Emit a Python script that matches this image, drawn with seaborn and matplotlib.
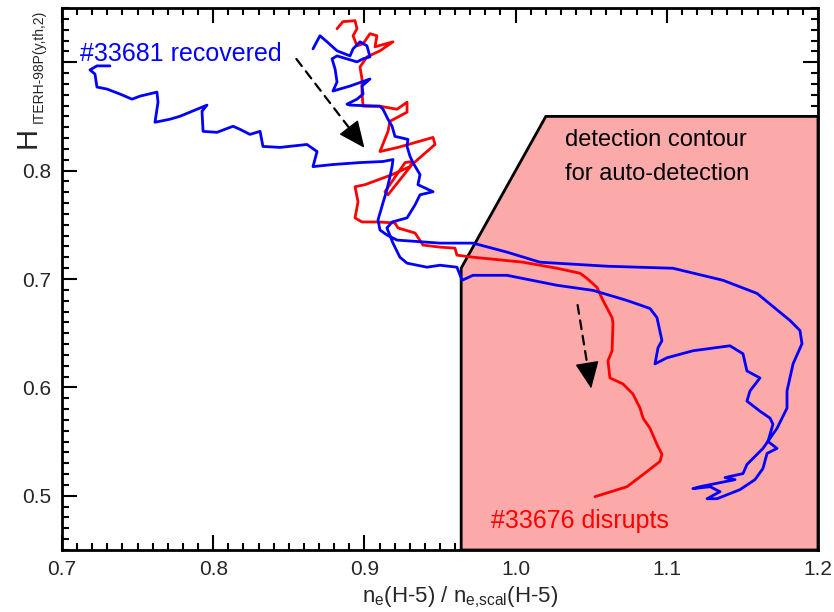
import numpy as np
import pandas as pd
import matplotlib
matplotlib.use("Agg")
import matplotlib.pyplot as plt
from matplotlib.ticker import MultipleLocator
import seaborn as sns

# ---------------- data ----------------
blue_x = [0.7317, 0.7231, 0.7185, 0.7218, 0.7231, 0.7298, 0.7384, 0.7463, 0.7516, 0.7628,
          0.7635, 0.7615, 0.7714, 0.7780, 0.7893, 0.7959, 0.7926, 0.7933, 0.8025, 0.8131,
          0.8177, 0.8243, 0.8310, 0.8329, 0.8442, 0.8620, 0.8687, 0.8660, 0.8792, 0.8971,
          0.9123, 0.9189, 0.9183, 0.9169, 0.9149, 0.9123, 0.9090, 0.9103, 0.9149, 0.9216,
          0.9500, 0.9718, 0.9943, 1.0161, 1.0604, 1.1041, 1.1372, 1.1597, 1.1815, 1.1881,
          1.1894, 1.1835, 1.1795, 1.1795, 1.1729, 1.1636, 1.1530, 1.1504, 1.1385, 1.1451,
          1.1220, 1.1173, 1.1286, 1.1352, 1.1266, 1.1332, 1.1484, 1.1583, 1.1636, 1.1663,
          1.1729, 1.1669, 1.1702, 1.1683, 1.1616, 1.1530, 1.1550, 1.1616, 1.1530, 1.1504,
          1.1438, 1.1418, 1.1173, 1.1001, 1.0922, 1.0942, 1.0968, 1.0935, 1.0889, 1.0737,
          1.0512, 1.0274, 0.9943, 0.9718, 0.9646, 0.9612, 0.9500, 0.9414, 0.9282, 0.9235,
          0.9189, 0.9149, 0.9183, 0.9282, 0.9335, 0.9368, 0.9454, 0.9354, 0.9368, 0.9321,
          0.9302, 0.9282, 0.9288, 0.9202, 0.9183, 0.9156, 0.9123, 0.9103, 0.8905, 0.8885,
          0.8951, 0.8991, 0.8984, 0.9037, 0.8905, 0.8792, 0.8819, 0.8806, 0.8786, 0.8819,
          0.8951, 0.8991, 0.9037, 0.9017, 0.8971, 0.8925, 0.8905, 0.8819, 0.8753, 0.8706,
          0.8660]
blue_y = [0.8966, 0.8966, 0.8929, 0.8891, 0.8771, 0.8752, 0.8706, 0.8659, 0.8687, 0.8724,
          0.8631, 0.8446, 0.8474, 0.8501, 0.8566, 0.8604, 0.8548, 0.8362, 0.8353, 0.8409,
          0.8381, 0.8334, 0.8362, 0.8223, 0.8214, 0.8241, 0.8176, 0.8037, 0.8056, 0.8074,
          0.8084, 0.8102, 0.8037, 0.7944, 0.7824, 0.7703, 0.7545, 0.7452, 0.7406, 0.7359,
          0.7331, 0.7331, 0.7248, 0.7155, 0.7118, 0.7099, 0.6988, 0.6867, 0.6617, 0.6524,
          0.6403, 0.6217, 0.5967, 0.5809, 0.5623, 0.5437, 0.5289, 0.5205, 0.5168, 0.5149,
          0.5084, 0.5066, 0.5084, 0.5038, 0.4973, 0.4973, 0.5057, 0.5149, 0.5252, 0.5391,
          0.5437, 0.5502, 0.5660, 0.5716, 0.5781, 0.5874, 0.5967, 0.6087, 0.6152, 0.6310,
          0.6366, 0.6384, 0.6338, 0.6273, 0.6217, 0.6366, 0.6431, 0.6644, 0.6728, 0.6802,
          0.6895, 0.6942, 0.7034, 0.7034, 0.6988, 0.7109, 0.7127, 0.7109, 0.7146, 0.7201,
          0.7331, 0.7471, 0.7526, 0.7564, 0.7684, 0.7777, 0.7805, 0.7870, 0.7963, 0.8074,
          0.8130, 0.8223, 0.8288, 0.8316, 0.8409, 0.8474, 0.8566, 0.8594, 0.8604, 0.8613,
          0.8659, 0.8706, 0.8780, 0.8845, 0.8780, 0.8734, 0.8817, 0.8938, 0.9031, 0.9058,
          0.9003, 0.9031, 0.9049, 0.9151, 0.9188, 0.9123, 0.9058, 0.9105, 0.9188, 0.9244,
          0.9123]

red_x = [0.8819, 0.8858, 0.8938, 0.8951, 0.8925, 0.8951, 0.8991, 0.9037, 0.9083, 0.9070,
         0.9189, 0.9103, 0.9017, 0.8971, 0.8984, 0.8984, 0.8991, 0.9103, 0.9216, 0.9282,
         0.9282, 0.9169, 0.9156, 0.9103, 0.9222, 0.9454, 0.9467, 0.9315, 0.9156, 0.9136,
         0.9269, 0.9315, 0.9302, 0.9183, 0.9004, 0.8938, 0.8958, 0.8938, 0.8984, 0.9090,
         0.9202, 0.9222, 0.9335, 0.9388, 0.9500, 0.9599, 0.9612, 0.9718, 1.0049, 1.0274,
         1.0426, 1.0472, 1.0538, 1.0578, 1.0638, 1.0644, 1.0638, 1.0611, 1.0624, 1.0710,
         1.0776, 1.0823, 1.0843, 1.0889, 1.0935, 1.0968, 1.0955, 1.0843, 1.0737, 1.0525]
red_y = [0.9309, 0.9374, 0.9383, 0.9309, 0.9244, 0.9151, 0.9170, 0.9263, 0.9244, 0.9142,
         0.9188, 0.9105, 0.9049, 0.8956, 0.8845, 0.8724, 0.8594, 0.8594, 0.8566, 0.8631,
         0.8539, 0.8455, 0.8362, 0.8176, 0.8214, 0.8306, 0.8241, 0.8056, 0.7777, 0.7805,
         0.8074, 0.8084, 0.8037, 0.7963, 0.7870, 0.7851, 0.7712, 0.7564, 0.7526, 0.7526,
         0.7517, 0.7471, 0.7424, 0.7313, 0.7294, 0.7285, 0.7220, 0.7201, 0.7155, 0.7099,
         0.7053, 0.7006, 0.6923, 0.6802, 0.6644, 0.6589, 0.6338, 0.6245, 0.6087, 0.6032,
         0.5939, 0.5809, 0.5716, 0.5623, 0.5474, 0.5382, 0.5317, 0.5196, 0.5084, 0.4992]

# detection contour polygon
contour_x = [0.964, 0.964, 1.020, 1.200, 1.200]
contour_y = [0.450, 0.710, 0.850, 0.850, 0.450]

x_ticks = [0.7, 0.8, 0.9, 1.0, 1.1, 1.2]
x_tick_labels = ["0.7", "0.8", "0.9", "1.0", "1.1", "1.2"]
y_ticks = [0.5, 0.6, 0.7, 0.8, 0.9]
y_tick_labels = ["0.5", "0.6", "0.7", "0.8", ""]

# ---------------- style ----------------
sns.set_style("ticks")
plt.rcParams["font.family"] = ["Liberation Sans", "DejaVu Sans"]
plt.rcParams["mathtext.fontset"] = "custom"
plt.rcParams["mathtext.rm"] = "Liberation Sans"
plt.rcParams["mathtext.it"] = "Liberation Sans"
plt.rcParams["mathtext.bf"] = "Liberation Sans"

BLUE = "#0000FF"
RED = "#FF0000"
PINK = "#FBA9A9"

fig = plt.figure(figsize=(8.34, 6.12), dpi=100)
ax = fig.add_axes([62 / 834, 62 / 612, 756 / 834, 542 / 612])

ax.fill(contour_x, contour_y, facecolor=PINK, edgecolor="black", linewidth=2.0, zorder=1)

df_b = pd.DataFrame({"x": blue_x, "y": blue_y})
df_r = pd.DataFrame({"x": red_x, "y": red_y})
sns.lineplot(data=df_r, x="x", y="y", sort=False, estimator=None, color=RED, lw=2.0, ax=ax, zorder=3)
sns.lineplot(data=df_b, x="x", y="y", sort=False, estimator=None, color=BLUE, lw=2.0, ax=ax, zorder=4)

# dashed arrows: dashed shaft + solid head
arrows = [((0.855, 0.903), (0.900, 0.821)), ((1.041, 0.676), (1.050, 0.599))]
for (x0, y0), (x1, y1) in arrows:
    ax.annotate("", xy=(x0 + 0.85 * (x1 - x0), y0 + 0.85 * (y1 - y0)), xytext=(x0, y0),
                arrowprops=dict(arrowstyle="-", linestyle=(0, (4, 3)), lw=1.6, color="black",
                                shrinkA=0, shrinkB=0), zorder=6)
    ax.annotate("", xy=(x1, y1), xytext=(x0 + 0.8 * (x1 - x0), y0 + 0.8 * (y1 - y0)),
                arrowprops=dict(arrowstyle="-|>,head_length=0.85,head_width=0.38", lw=1.0,
                                color="black", mutation_scale=20, shrinkA=0, shrinkB=0), zorder=6)

# annotations
ax.text(0.712, 0.901, "#33681 recovered", color=BLUE, fontsize=18, ha="left", va="baseline", zorder=7)
ax.text(0.984, 0.4704, "#33676 disrupts", color=RED, fontsize=18, ha="left", va="baseline", zorder=7)
ax.text(1.033, 0.8223, "detection contour", color="black", fontsize=17, ha="left", va="baseline", zorder=7)
ax.text(1.033, 0.7916, "for auto-detection", color="black", fontsize=17, ha="left", va="baseline", zorder=7)

ax.set_xlim(0.7, 1.2)
ax.set_ylim(0.45, 0.95)
ax.set_xticks(x_ticks)
ax.set_xticklabels(x_tick_labels)
ax.set_yticks(y_ticks)
ax.set_yticklabels(y_tick_labels)
ax.xaxis.set_minor_locator(MultipleLocator(0.01))
ax.yaxis.set_minor_locator(MultipleLocator(0.01))
ax.tick_params(which="both", direction="in", top=True, right=True, color="black", width=1.5)
ax.tick_params(which="major", length=11, labelsize=15)
ax.tick_params(which="minor", length=5)
ax.tick_params(axis="x", which="major", pad=7)
ax.tick_params(axis="y", which="major", pad=8)
for s in ax.spines.values():
    s.set_linewidth(2.0)
    s.set_color("black")
    s.set_visible(True)

ax.set_xlabel(r"$\mathregular{n_e(H\text{-}5)\ /\ n_{e{,}scal}(H\text{-}5)}$", fontsize=16)
ax.xaxis.set_label_coords((460 - 62) / 756, -60 / 542)
ax.xaxis.label.set_va("bottom")
ax.set_ylabel("")

# y label: H with small subscript
fig.text(28 / 834, 1 - 137 / 612, "H", fontsize=21, rotation=90, ha="center", va="center")
fig.text(39 / 834, 1 - 10 / 612, "ITERH-98P(y,th,2)", fontsize=10, rotation=90, ha="center", va="top")

fig.savefig("out.png", dpi=100)
